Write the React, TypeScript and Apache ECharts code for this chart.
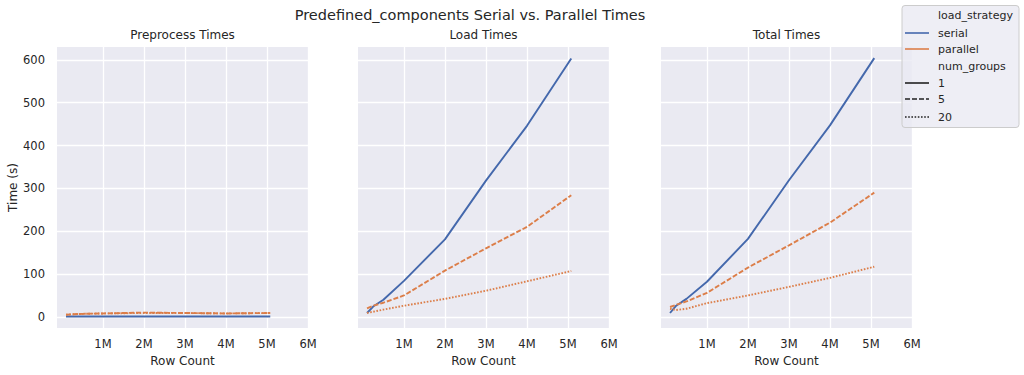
import React, { useEffect, useRef } from 'react';
import * as echarts from 'echarts';

const rowCounts = [100000, 250000, 500000, 1000000, 2000000, 3000000, 4000000, 5080000];

const preprocessSerial = [1, 1, 1, 1, 1, 1, 1, 1];
const preprocessParallel5 = [5, 6, 7, 8, 10, 9, 8, 9];
const preprocessParallel20 = [5, 6, 7, 8, 9, 9, 8, 9];

const loadSerial = [9, 24, 40, 84, 181, 318, 446, 603];
const loadParallel5 = [20, 26, 33, 50, 108, 160, 210, 284];
const loadParallel20 = [9, 12, 17, 26, 42, 61, 83, 107];

const totalSerial = [9, 26, 42, 82, 182, 319, 447, 604];
const totalParallel5 = [23, 28, 36, 56, 115, 167, 220, 290];
const totalParallel20 = [19, 16, 19, 32, 50, 70, 91, 117];

const panelTitles = ['Preprocess Times', 'Load Times', 'Total Times'];
const xTickValues = [1000000, 2000000, 3000000, 4000000, 5000000, 6000000];
const xTickLabels = ['1M', '2M', '3M', '4M', '5M', '6M'];
const yTickValues = [0, 100, 200, 300, 400, 500, 600];
const yTickLabels = ['0', '100', '200', '300', '400', '500', '600'];

const strategyLabels = ['serial', 'parallel'];
const groupLabels = ['1', '5', '20'];

const BLUE = '#4468AC';
const ORANGE = '#DC7E49';
const TEXT = '#262626';
const FONT = 'DejaVu Sans';

const panels = [
  [preprocessSerial, preprocessParallel5, preprocessParallel20],
  [loadSerial, loadParallel5, loadParallel20],
  [totalSerial, totalParallel5, totalParallel20],
];

const gridLefts = [57, 358, 661];
const gridWidth = 251;
const gridTop = 47;
const gridHeight = 281;

export default function App() {
  const ref = useRef<HTMLDivElement>(null);
  useEffect(() => {
    if (!ref.current) return;
    const chart = echarts.init(ref.current, undefined, { renderer: 'svg' });

    const grids = gridLefts.map((l) => ({
      left: l,
      top: gridTop,
      width: gridWidth,
      height: gridHeight,
      show: true,
      backgroundColor: '#EAEAF2',
      borderWidth: 0,
    }));

    const xAxes = gridLefts.map((_, i) => ({
      type: 'value',
      gridIndex: i,
      min: -120000,
      max: 6000000,
      axisLine: { show: false },
      axisTick: { show: false },
      splitLine: { show: false },
      axisLabel: {
        show: true,
        showMaxLabel: true,
        showMinLabel: false,
        margin: 10,
        color: TEXT,
        fontFamily: FONT,
        fontSize: 11.5,
        formatter: (v: number) => {
          const k = xTickValues.indexOf(v);
          return k >= 0 ? xTickLabels[k] : '';
        },
      },
      name: 'Row Count',
      nameLocation: 'middle',
      nameGap: 24,
      nameTextStyle: { color: TEXT, fontFamily: FONT, fontSize: 12 },
    }));

    const yAxes = gridLefts.map((_, i) => ({
      type: 'value',
      gridIndex: i,
      min: -26,
      max: 630,
      axisLine: { show: false },
      axisTick: { show: false },
      splitLine: { show: false },
      axisLabel: {
        show: i === 0,
        margin: 12,
        color: TEXT,
        fontFamily: FONT,
        fontSize: 11.5,
        showMinLabel: false,
        showMaxLabel: false,
        formatter: (v: number) => {
          const k = yTickValues.indexOf(v);
          return k >= 0 ? yTickLabels[k] : '';
        },
      },
      name: i === 0 ? 'Time (s)' : '',
      nameLocation: 'middle',
      nameGap: 38,
      nameTextStyle: { color: TEXT, fontFamily: FONT, fontSize: 12 },
    }));

    const series: any[] = [];
    panels.forEach((vals, i) => {
      series.push({
        type: 'line',
        xAxisIndex: i,
        yAxisIndex: i,
        data: [],
        silent: true,
        z: 1,
        markLine: {
          silent: true,
          z: 1,
          symbol: ['none', 'none'],
          label: { show: false },
          lineStyle: { color: '#FFFFFF', width: 1.3, type: 'solid' },
          data: [
            ...xTickValues.map((v) => ({ xAxis: v })),
            ...yTickValues.map((v) => ({ yAxis: v })),
          ],
        },
      });
      const styles = [
        { color: BLUE, type: 'solid' as any },
        { color: ORANGE, type: [5, 2] as any },
        { color: ORANGE, type: [1.6, 1.6] as any },
      ];
      const names = ['serial 1', 'parallel 5', 'parallel 20'];
      vals.forEach((arr, j) => {
        series.push({
          type: 'line',
          name: names[j],
          xAxisIndex: i,
          yAxisIndex: i,
          z: 3,
          symbol: 'none',
          data: rowCounts.map((x, k) => [x, arr[k]]),
          lineStyle: { color: styles[j].color, width: 1.9, type: styles[j].type },
        });
      });
    });

    const legendX = 905;
    const legendTextX = 938;
    const rowsY = [15, 33, 49, 66, 83, 99, 117];
    const graphic: any[] = [
      {
        type: 'text',
        style: {
          x: 470,
          y: 15,
          text: 'Predefined_components Serial vs. Parallel Times',
          fill: TEXT,
          font: `14.5px "${FONT}"`,
          align: 'center',
          verticalAlign: 'middle',
        },
      },
      ...panelTitles.map((t, i) => ({
        type: 'text',
        style: {
          x: gridLefts[i] + gridWidth / 2,
          y: 35,
          text: t,
          fill: TEXT,
          font: `12px "${FONT}"`,
          align: 'center',
          verticalAlign: 'middle',
        },
      })),
      {
        type: 'rect',
        z: 10,
        shape: { x: 902, y: 5.5, width: 117, height: 122, r: 3 },
        style: { fill: 'rgba(234,234,242,0.8)', stroke: '#CCCCCC', lineWidth: 1 },
      },
    ];
    const legendTexts = ['load_strategy', strategyLabels[0], strategyLabels[1], 'num_groups', groupLabels[0], groupLabels[1], groupLabels[2]];
    legendTexts.forEach((t, k) => {
      graphic.push({
        type: 'text',
        z: 11,
        style: {
          x: legendTextX,
          y: rowsY[k],
          text: t,
          fill: TEXT,
          font: `11px "${FONT}"`,
          align: 'left',
          verticalAlign: 'middle',
        },
      });
    });
    const legendLines = [
      { row: 1, color: BLUE, dash: null },
      { row: 2, color: ORANGE, dash: null },
      { row: 4, color: '#222222', dash: null },
      { row: 5, color: '#222222', dash: [5, 2] },
      { row: 6, color: '#222222', dash: [1.6, 1.6] },
    ];
    legendLines.forEach((l) => {
      graphic.push({
        type: 'line',
        z: 11,
        shape: { x1: legendX, y1: rowsY[l.row], x2: legendX + 24, y2: rowsY[l.row] },
        style: { stroke: l.color, lineWidth: 1.6, lineDash: l.dash || undefined },
      });
    });

    chart.setOption({
      animation: false,
      backgroundColor: '#FFFFFF',
      grid: grids,
      xAxis: xAxes,
      yAxis: yAxes,
      series,
      graphic,
    });
    return () => chart.dispose();
  }, []);
  return <div ref={ref} style={{ width: 1024, height: 375, position: 'absolute', left: 0, top: 0 }} />;
}
